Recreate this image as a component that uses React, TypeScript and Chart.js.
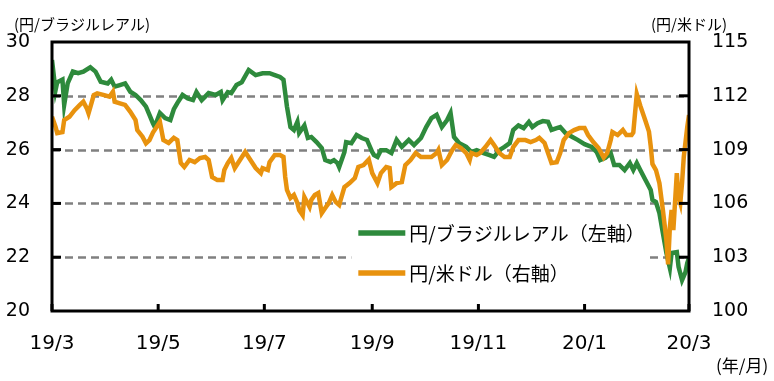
import React, { useEffect, useRef } from "react";
import { Chart, registerables } from "chart.js";

Chart.register(...registerables);

// 円/ブラジルレアル (left axis)
const brlDates = [
  "2019-03-01","2019-03-03","2019-03-04","2019-03-07","2019-03-08","2019-03-10","2019-03-13","2019-03-16","2019-03-19","2019-03-23",
  "2019-03-26","2019-03-29","2019-04-02","2019-04-04","2019-04-06","2019-04-09","2019-04-12","2019-04-15","2019-04-18","2019-04-21",
  "2019-04-24","2019-04-26","2019-04-28","2019-04-29","2019-05-02","2019-05-05","2019-05-08","2019-05-10","2019-05-12","2019-05-15",
  "2019-05-18","2019-05-21","2019-05-23","2019-05-26","2019-05-30","2019-06-03","2019-06-06","2019-06-07","2019-06-10","2019-06-12",
  "2019-06-15","2019-06-18","2019-06-22","2019-06-26","2019-06-30","2019-07-04","2019-07-07","2019-07-10","2019-07-12","2019-07-13",
  "2019-07-14","2019-07-16","2019-07-18","2019-07-20","2019-07-21","2019-07-24","2019-07-26","2019-07-28","2019-07-31","2019-08-03",
  "2019-08-05","2019-08-08","2019-08-10","2019-08-12","2019-08-13","2019-08-16","2019-08-17","2019-08-20","2019-08-23","2019-08-26",
  "2019-08-29","2019-09-01","2019-09-02","2019-09-04","2019-09-06","2019-09-09","2019-09-12","2019-09-15","2019-09-18","2019-09-22",
  "2019-09-25","2019-09-29","2019-10-02","2019-10-05","2019-10-08","2019-10-11","2019-10-14","2019-10-16","2019-10-18","2019-10-21",
  "2019-10-25","2019-10-28","2019-10-31","2019-11-04","2019-11-07","2019-11-10","2019-11-13","2019-11-16","2019-11-19","2019-11-21",
  "2019-11-24","2019-11-27","2019-11-30","2019-12-02","2019-12-05","2019-12-08","2019-12-11","2019-12-13","2019-12-16","2019-12-18",
  "2019-12-21","2019-12-25","2019-12-28","2020-01-01","2020-01-05","2020-01-08","2020-01-10","2020-01-13","2020-01-16","2020-01-18",
  "2020-01-21","2020-01-24","2020-01-27","2020-01-29","2020-01-31","2020-02-02","2020-02-05","2020-02-08","2020-02-09","2020-02-11",
  "2020-02-13","2020-02-15","2020-02-17","2020-02-19","2020-02-20","2020-02-23","2020-02-24","2020-02-26","2020-02-28","2020-02-29",
  "2020-03-01",
];
const brlValues = [
  29.33,28.2,28.5,28.6,27.66,28.46,28.9,28.84,28.9,29.06,
  28.9,28.52,28.46,28.6,28.34,28.4,28.46,28.15,28.03,27.84,
  27.6,27.29,26.98,26.85,27.36,27.17,27.1,27.5,27.73,28.03,
  27.9,27.84,28.14,27.84,28.1,28.03,28.14,27.84,28.14,28.1,
  28.4,28.5,28.96,28.77,28.84,28.84,28.77,28.7,28.6,28.1,
  27.6,26.84,26.73,27.03,26.62,26.9,26.43,26.47,26.28,26.06,
  25.61,25.54,25.61,25.5,25.35,25.9,26.28,26.24,26.54,26.43,
  26.36,25.91,25.8,25.73,25.98,25.98,25.87,26.36,26.1,26.36,
  26.17,26.43,26.84,27.17,27.29,26.84,27.1,27.36,26.47,26.24,
  26.1,25.91,25.98,25.87,25.8,25.73,25.98,26.1,26.24,26.73,
  26.9,26.8,27.03,26.84,26.98,27.06,27.03,26.73,26.8,26.84,
  26.62,26.47,26.36,26.2,26.1,25.91,25.61,25.69,25.87,25.43,
  25.43,25.24,25.5,25.24,25.5,25.24,24.87,24.5,24.13,24.05,
  23.64,22.9,22.16,21.6,22.16,22.19,21.64,21.15,21.45,21.78,
  21.97,
];

// 円/米ドル (right axis)
const usdDates = [
  "2019-03-01","2019-03-03","2019-03-04","2019-03-07","2019-03-08","2019-03-11","2019-03-14","2019-03-17","2019-03-19","2019-03-21",
  "2019-03-22","2019-03-25","2019-03-27","2019-03-31","2019-04-03","2019-04-05","2019-04-06","2019-04-09","2019-04-12","2019-04-15",
  "2019-04-18","2019-04-19","2019-04-22","2019-04-24","2019-04-26","2019-04-28","2019-04-30","2019-05-02","2019-05-04","2019-05-07",
  "2019-05-10","2019-05-12","2019-05-14","2019-05-16","2019-05-19","2019-05-22","2019-05-25","2019-05-28","2019-05-30","2019-06-01",
  "2019-06-04","2019-06-07","2019-06-08","2019-06-10","2019-06-12","2019-06-14","2019-06-17","2019-06-20","2019-06-23","2019-06-26",
  "2019-06-29","2019-06-30","2019-07-03","2019-07-04","2019-07-07","2019-07-10","2019-07-12","2019-07-13","2019-07-14","2019-07-16",
  "2019-07-18","2019-07-20","2019-07-21","2019-07-23","2019-07-24","2019-07-27","2019-07-28","2019-07-30","2019-08-01","2019-08-03",
  "2019-08-05","2019-08-07","2019-08-09","2019-08-11","2019-08-13","2019-08-16","2019-08-19","2019-08-22","2019-08-24","2019-08-27",
  "2019-08-30","2019-09-01","2019-09-04","2019-09-06","2019-09-09","2019-09-11","2019-09-12","2019-09-15","2019-09-18","2019-09-20",
  "2019-09-23","2019-09-26","2019-09-29","2019-10-02","2019-10-05","2019-10-08","2019-10-09","2019-10-11","2019-10-14","2019-10-17",
  "2019-10-19","2019-10-22","2019-10-25","2019-10-27","2019-10-28","2019-10-31","2019-11-02","2019-11-05","2019-11-08","2019-11-10",
  "2019-11-13","2019-11-16","2019-11-19","2019-11-21","2019-11-24","2019-11-28","2019-12-01","2019-12-04","2019-12-06","2019-12-09",
  "2019-12-11","2019-12-13","2019-12-16","2019-12-18","2019-12-20","2019-12-23","2019-12-26","2019-12-29","2020-01-01","2020-01-03",
  "2020-01-06","2020-01-09","2020-01-12","2020-01-14","2020-01-16","2020-01-17","2020-01-20","2020-01-23","2020-01-25","2020-01-28",
  "2020-01-29","2020-01-31","2020-02-02","2020-02-05","2020-02-07","2020-02-08","2020-02-09","2020-02-11","2020-02-13","2020-02-15",
  "2020-02-17","2020-02-18","2020-02-19","2020-02-20","2020-02-21","2020-02-23","2020-02-24","2020-02-25","2020-02-26","2020-02-27",
  "2020-02-29","2020-03-01",
];
const usdValues = [
  110.83,110.28,109.92,109.98,110.65,110.83,111.2,111.49,111.67,111.3,
  111.02,112.04,112.14,112.04,111.95,112.23,111.67,111.58,111.49,111.11,
  110.65,110.09,109.72,109.35,109.53,109.95,110.24,110.54,109.53,109.37,
  109.65,109.53,108.25,108.03,108.42,108.3,108.53,108.59,108.42,107.47,
  107.3,107.3,107.86,108.25,108.53,107.97,108.42,108.87,108.42,107.97,
  107.69,107.97,107.86,108.3,108.7,108.7,108.59,107.47,106.75,106.3,
  106.47,106.02,105.63,105.35,106.36,105.8,106.19,106.47,106.58,105.46,
  105.74,106.02,106.47,106.08,105.91,106.91,107.13,107.41,108.03,108.14,
  108.45,107.69,107.13,107.69,108.03,107.97,106.91,107.13,107.19,108.14,
  108.42,108.81,108.59,108.59,108.59,108.81,108.98,108.14,108.42,108.98,
  109.26,109.09,108.81,108.42,108.81,108.7,108.81,109.14,109.53,109.26,
  108.81,108.59,108.59,109.14,109.53,109.53,109.42,109.53,109.65,109.37,
  108.81,108.25,108.3,108.81,109.53,109.92,110.09,110.2,110.2,109.81,
  109.42,109.09,108.55,108.81,109.53,109.98,109.81,110.09,109.81,109.81,
  109.95,112.1,111.45,110.6,110.0,109.2,108.2,107.86,107.13,105.63,
  103.96,102.6,104.68,105.63,104.51,107.69,106.36,106.02,107.13,108.59,
  110.26,110.93,
];

const xTickDates = ["2019-03-01", "2019-05-01", "2019-07-01", "2019-09-01", "2019-11-01", "2020-01-01", "2020-03-01"];
const xTickLabels = ["19/3", "19/5", "19/7", "19/9", "19/11", "20/1", "20/3"];
const leftRange = [20, 30];
const leftStep = 2;
const rightRange = [100, 115];
const rightStep = 3;
const seriesNames = ["円/ブラジルレアル（左軸）", "円/米ドル（右軸）"];
const leftUnit = "(円/ブラジルレアル)";
const rightUnit = "(円/米ドル)";
const xUnit = "(年/月)";
const legendAnchorDate = "2019-08-24";

const GREEN = "#2E8A3C";
const ORANGE = "#E8920E";
const JP = '"Noto Sans CJK JP", "Noto Sans", sans-serif';
const NUM = '"DejaVu Sans", sans-serif';

const dayOf = (s: string) =>
  (Date.UTC(+s.slice(0, 4), +s.slice(5, 7) - 1, +s.slice(8, 10)) - Date.UTC(2019, 2, 1)) / 86400000;

const decorPlugin = {
  id: "decor",
  beforeDatasetsDraw(chart: any) {
    const { ctx, chartArea: a, scales } = chart;
    ctx.save();
    ctx.strokeStyle = "#808080";
    ctx.lineWidth = 2.5;
    ctx.setLineDash([8, 5]);
    for (let v = leftRange[0] + leftStep; v < leftRange[1]; v += leftStep) {
      const y = Math.round(scales.y.getPixelForValue(v)) + 0.5;
      ctx.beginPath();
      ctx.moveTo(a.left, y);
      ctx.lineTo(a.right, y);
      ctx.stroke();
    }
    ctx.restore();
  },
  afterDatasetsDraw(chart: any) {
    const { ctx, scales } = chart;
    ctx.save();
    const lx = scales.x.getPixelForValue(dayOf(legendAnchorDate));
    ctx.fillStyle = "#fff";
    ctx.fillRect(lx - 7, 218, 294, 74);
    const colors = [GREEN, ORANGE];
    const rows = [233, 273];
    ctx.font = `19px ${JP}`;
    ctx.textBaseline = "middle";
    ctx.textAlign = "left";
    seriesNames.forEach((n, i) => {
      ctx.strokeStyle = colors[i];
      ctx.lineWidth = 5.5;
      ctx.beginPath();
      ctx.moveTo(lx, rows[i]);
      ctx.lineTo(lx + 47, rows[i]);
      ctx.stroke();
      ctx.fillStyle = "#000";
      ctx.fillText(n, lx + 51, rows[i] + 1);
    });
    ctx.restore();
  },
  afterDraw(chart: any) {
    const { ctx, chartArea: a, scales } = chart;
    ctx.save();
    ctx.strokeStyle = "#000";
    ctx.lineWidth = 3;
    ctx.strokeRect(a.left, a.top, a.right - a.left, a.bottom - a.top);
    for (let v = leftRange[0] + leftStep; v < leftRange[1]; v += leftStep) {
      const y = scales.y.getPixelForValue(v);
      ctx.beginPath();
      ctx.moveTo(a.left, y);
      ctx.lineTo(a.left + 9, y);
      ctx.stroke();
    }
    for (let v = rightRange[0] + rightStep; v < rightRange[1]; v += rightStep) {
      const y = scales.y1.getPixelForValue(v);
      ctx.beginPath();
      ctx.moveTo(a.right - 10, y);
      ctx.lineTo(a.right, y);
      ctx.stroke();
    }
    xTickDates.forEach((d) => {
      const x = scales.x.getPixelForValue(dayOf(d));
      ctx.beginPath();
      ctx.moveTo(x, a.bottom - 7);
      ctx.lineTo(x, a.bottom);
      ctx.stroke();
    });
    ctx.fillStyle = "#000";
    ctx.textBaseline = "middle";
    ctx.textAlign = "left";
    ctx.font = `15px ${JP}`;
    ctx.fillText(leftUnit, 14, 24);
    ctx.fillText(rightUnit, 651, 24);
    ctx.font = `17px ${JP}`;
    ctx.fillText(xUnit, 716, 366);
    ctx.restore();
  },
};

export default function App() {
  const ref = useRef<HTMLCanvasElement>(null);
  useEffect(() => {
    document.body.style.margin = "0";
    const tickFont = { family: NUM, size: 19 };
    const chart = new Chart(ref.current!, {
      type: "line",
      data: {
        datasets: [
          {
            label: seriesNames[1],
            data: usdDates.map((d, i) => ({ x: dayOf(d), y: usdValues[i] })),
            borderColor: ORANGE,
            borderWidth: 4.5,
            pointRadius: 0,
            tension: 0,
            yAxisID: "y1",
            order: 0,
          },
          {
            label: seriesNames[0],
            data: brlDates.map((d, i) => ({ x: dayOf(d), y: brlValues[i] })),
            borderColor: GREEN,
            borderWidth: 4.5,
            pointRadius: 0,
            tension: 0,
            yAxisID: "y",
            order: 1,
          },
        ],
      },
      options: {
        responsive: false,
        animation: false,
        layout: { padding: { top: 42, left: 0, right: 0, bottom: 0 } },
        plugins: { legend: { display: false }, tooltip: { enabled: false } },
        scales: {
          x: {
            type: "linear",
            min: 0,
            max: dayOf(xTickDates[xTickDates.length - 1]),
            afterBuildTicks: (s: any) => {
              s.ticks = xTickDates.map((d) => ({ value: dayOf(d) }));
            },
            ticks: {
              callback: (_v: any, i: number) => xTickLabels[i],
              font: { family: NUM, size: 20 },
              color: "#000",
              padding: 21,
              maxRotation: 0,
              autoSkip: false,
            },
            grid: { display: false, drawTicks: false },
            border: { display: false },
            afterFit: (s: any) => {
              s.height = 70;
            },
          },
          y: {
            type: "linear",
            position: "left",
            min: leftRange[0],
            max: leftRange[1],
            ticks: { stepSize: leftStep, font: tickFont, color: "#000", padding: 22 },
            grid: { display: false, drawTicks: false },
            border: { display: false },
            afterFit: (s: any) => {
              s.width = 52;
            },
          },
          y1: {
            type: "linear",
            position: "right",
            min: rightRange[0],
            max: rightRange[1],
            ticks: { stepSize: rightStep, font: tickFont, color: "#000", padding: 23 },
            grid: { display: false, drawTicks: false },
            border: { display: false },
            afterFit: (s: any) => {
              s.width = 85;
            },
          },
        },
      },
      plugins: [decorPlugin],
    });
    return () => chart.destroy();
  }, []);
  return (
    <div style={{ width: 774, height: 381, background: "#fff" }}>
      <canvas ref={ref} width={774} height={381} />
    </div>
  );
}
